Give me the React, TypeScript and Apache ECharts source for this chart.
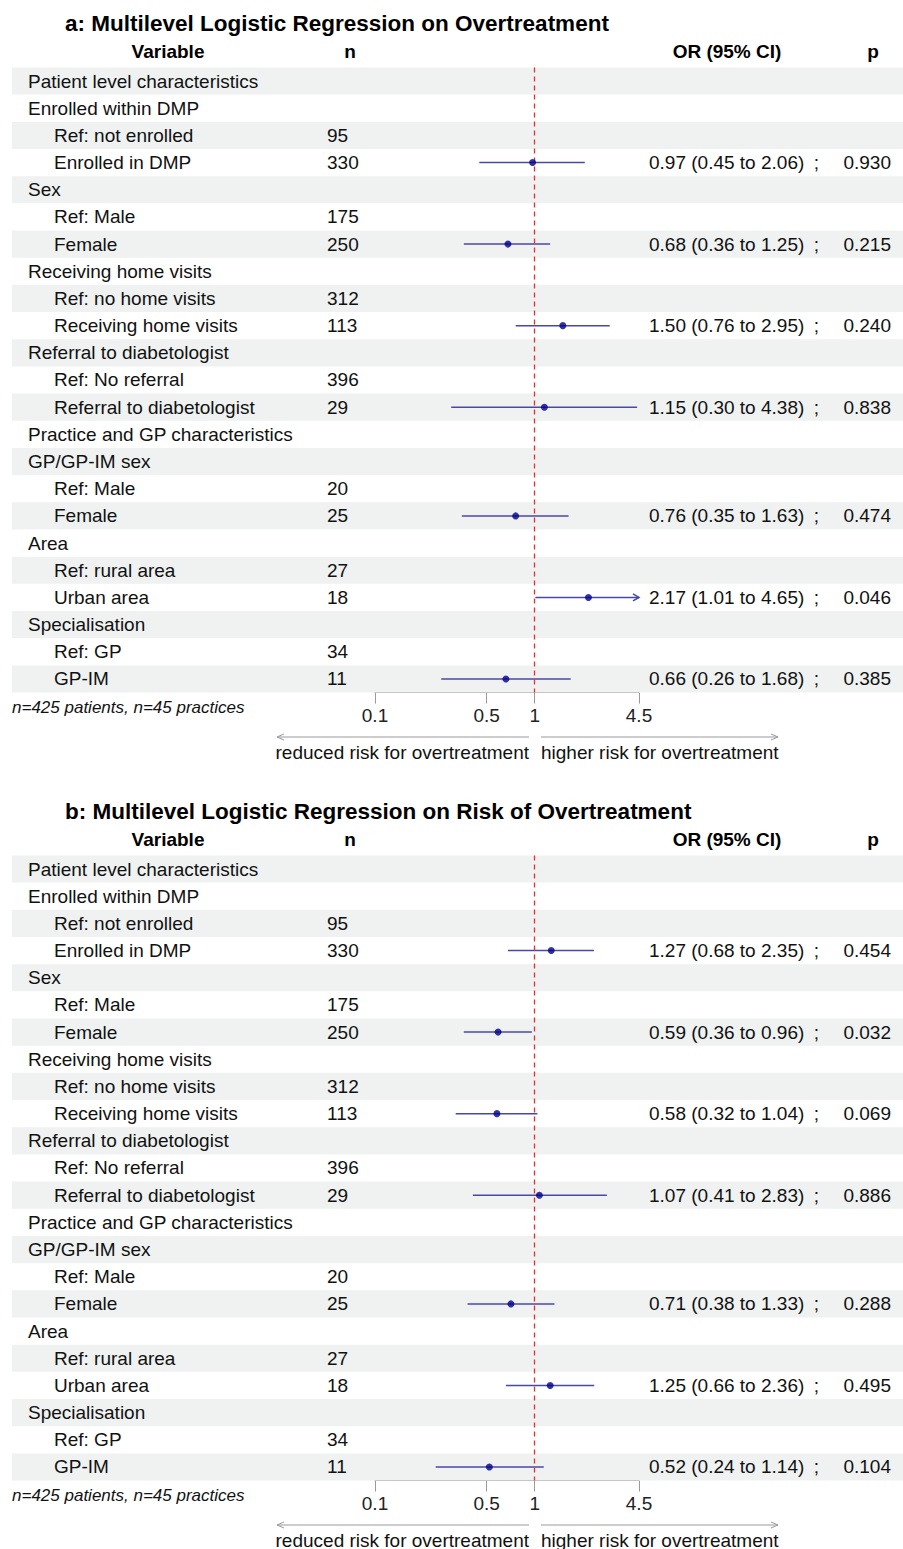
import React, { useEffect, useRef } from "react";
import * as echarts from "echarts";

// ---------- data ----------
const rowLabels = [
  "Patient level characteristics",
  "Enrolled within DMP",
  "Ref: not enrolled",
  "Enrolled in DMP",
  "Sex",
  "Ref: Male",
  "Female",
  "Receiving home visits",
  "Ref: no home visits",
  "Receiving home visits",
  "Referral to diabetologist",
  "Ref: No referral",
  "Referral to diabetologist",
  "Practice and GP characteristics",
  "GP/GP-IM sex",
  "Ref: Male",
  "Female",
  "Area",
  "Ref: rural area",
  "Urban area",
  "Specialisation",
  "Ref: GP",
  "GP-IM",
];
const rowIndent = [0, 0, 1, 1, 0, 1, 1, 0, 1, 1, 0, 1, 1, 0, 0, 1, 1, 0, 1, 1, 0, 1, 1];
const rowN = ["", "", "95", "330", "", "175", "250", "", "312", "113", "", "396", "29", "", "", "20", "25", "", "27", "18", "", "34", "11"];
const estimateRows = [3, 6, 9, 12, 16, 19, 22];

const orA = [0.97, 0.68, 1.5, 1.15, 0.76, 2.17, 0.66];
const loA = [0.45, 0.36, 0.76, 0.3, 0.35, 1.01, 0.26];
const hiA = [2.06, 1.25, 2.95, 4.38, 1.63, 4.65, 1.68];
const pA = [0.93, 0.215, 0.24, 0.838, 0.474, 0.046, 0.385];

const orB = [1.27, 0.59, 0.58, 1.07, 0.71, 1.25, 0.52];
const loB = [0.68, 0.36, 0.32, 0.41, 0.38, 0.66, 0.24];
const hiB = [2.35, 0.96, 1.04, 2.83, 1.33, 2.36, 1.14];
const pB = [0.454, 0.032, 0.069, 0.886, 0.288, 0.495, 0.104];

const titles = [
  "a: Multilevel Logistic Regression on Overtreatment",
  "b: Multilevel Logistic Regression on Risk of Overtreatment",
];
const headers = ["Variable", "n", "OR (95% CI)", "p"];
const axisTicks = [0.1, 0.5, 1, 4.5];
const xMin = 0.1;
const xMax = 4.5;
const footnote = "n=425 patients, n=45 practices";
const reducedLabel = "reduced risk for overtreatment";
const higherLabel = "higher risk for overtreatment";

// ---------- layout ----------
const FONT = '"Liberation Sans", Arial, Helvetica, sans-serif';
const PANEL_OFFSET = 788;
const ROW_H = 27.1818;
const GRID_TOP = 81 - ROW_H / 2;
const GRID_LEFT = 375;
const GRID_W = 264;
const TEXT = "#111";
const STRIPE = "#eff2f1";
const CI_COLOR = "#4848a8";
const PT_COLOR = "#00008b";
const AXIS_GRAY = "#9a9a9a";

const LMIN = Math.log10(xMin);
const LMAX = Math.log10(xMax);

function fmtOR(o: number, l: number, h: number) {
  return `${o.toFixed(2)} (${l.toFixed(2)} to ${h.toFixed(2)})`;
}

function buildPanel(p: number, or: number[], lo: number[], hi: number[], pv: number[]) {
  const stripes = rowLabels.map((_, i) => i).filter((i) => i % 2 === 0).map((i) => [LMIN, i]);
  const textData = rowLabels.map((_, i) => [LMIN, i]);
  const ciData = estimateRows.map((r, k) => [Math.log10(lo[k]), Math.log10(hi[k]), r]);
  const ptData = estimateRows.map((r, k) => [Math.log10(or[k]), r]);

  return [
    {
      type: "custom",
      xAxisIndex: p,
      yAxisIndex: p,
      silent: true,
      z: 1,
      encode: { x: 0, y: 1 },
      data: stripes,
      renderItem: (params: any, api: any) => {
        const c = api.coord([LMIN, api.value(1)]);
        const h = api.size([0, 1])[1];
        return {
          type: "rect",
          shape: { x: 12, y: c[1] - h / 2, width: 891, height: h },
          style: { fill: STRIPE },
        };
      },
    },
    {
      type: "scatter",
      xAxisIndex: p,
      yAxisIndex: p,
      silent: true,
      z: 2,
      data: [],
      markLine: {
        silent: true,
        symbol: ["none", "none"],
        label: { show: false },
        lineStyle: { color: "#e53030", width: 1.3, type: [5, 4] },
        data: [{ xAxis: 0 }],
      },
    },
    {
      type: "custom",
      xAxisIndex: p,
      yAxisIndex: p,
      silent: true,
      z: 3,
      encode: { x: 0, y: 1 },
      data: textData,
      renderItem: (params: any, api: any) => {
        const i = api.value(1);
        const y = api.coord([LMIN, i])[1];
        const children: any[] = [
          {
            type: "text",
            x: rowIndent[i] ? 54 : 28,
            y,
            style: { text: rowLabels[i], fill: TEXT, font: `19px ${FONT}`, align: "left", verticalAlign: "middle" },
          },
        ];
        if (rowN[i]) {
          children.push({
            type: "text",
            x: 327,
            y,
            style: { text: rowN[i], fill: TEXT, font: `19px ${FONT}`, align: "left", verticalAlign: "middle" },
          });
        }
        const k = estimateRows.indexOf(i);
        if (k >= 0) {
          children.push(
            {
              type: "text",
              x: 649,
              y,
              style: { text: fmtOR(or[k], lo[k], hi[k]), fill: TEXT, font: `19px ${FONT}`, align: "left", verticalAlign: "middle" },
            },
            {
              type: "text",
              x: 816.5,
              y,
              style: { text: ";", fill: TEXT, font: `19px ${FONT}`, align: "center", verticalAlign: "middle" },
            },
            {
              type: "text",
              x: 891,
              y,
              style: { text: pv[k].toFixed(3), fill: TEXT, font: `19px ${FONT}`, align: "right", verticalAlign: "middle" },
            }
          );
        }
        return { type: "group", children };
      },
    },
    {
      type: "custom",
      xAxisIndex: p,
      yAxisIndex: p,
      silent: true,
      z: 4,
      encode: { x: [0, 1], y: 2 },
      data: ciData,
      renderItem: (params: any, api: any) => {
        const l = api.value(0);
        const h = api.value(1);
        const r = api.value(2);
        const clipped = h > LMAX + 1e-9;
        const p1 = api.coord([Math.max(l, LMIN), r]);
        const p2 = api.coord([Math.min(h, LMAX), r]);
        const children: any[] = [
          {
            type: "line",
            shape: { x1: p1[0], y1: p1[1], x2: p2[0], y2: p2[1] },
            style: { stroke: CI_COLOR, lineWidth: 1.5 },
          },
        ];
        if (clipped) {
          children.push({
            type: "polyline",
            shape: {
              points: [
                [p2[0] - 6, p2[1] - 3.5],
                [p2[0], p2[1]],
                [p2[0] - 6, p2[1] + 3.5],
              ],
            },
            style: { stroke: CI_COLOR, lineWidth: 1.5, fill: "none" },
          });
        }
        return { type: "group", children };
      },
    },
    {
      type: "scatter",
      xAxisIndex: p,
      yAxisIndex: p,
      silent: true,
      z: 5,
      symbol: "circle",
      symbolSize: 7,
      itemStyle: { color: PT_COLOR },
      data: ptData,
    },
  ];
}

function panelGraphics(p: number) {
  const o = p * PANEL_OFFSET;
  const txt = (text: string, x: number, y: number, extra: any = {}) => ({
    type: "text",
    x,
    y,
    silent: true,
    style: { text, fill: TEXT, font: `19px ${FONT}`, align: "center", verticalAlign: "middle", ...extra },
  });
  const ay = 737 + o;
  return [
    txt(titles[p], 65, 23 + o, { font: `bold 22.5px ${FONT}`, align: "left", fill: "#000" }),
    txt(headers[0], 168, 51 + o, { font: `bold 19px ${FONT}`, fill: "#000" }),
    txt(headers[1], 350, 51 + o, { font: `bold 19px ${FONT}`, fill: "#000" }),
    txt(headers[2], 727, 51 + o, { font: `bold 19px ${FONT}`, fill: "#000" }),
    txt(headers[3], 873, 51 + o, { font: `bold 19px ${FONT}`, fill: "#000" }),
    txt(footnote, 12, 707 + o, { font: `italic 17px ${FONT}`, align: "left" }),
    {
      type: "line",
      silent: true,
      shape: { x1: 529, y1: ay, x2: 277, y2: ay },
      style: { stroke: AXIS_GRAY, lineWidth: 1 },
    },
    {
      type: "polyline",
      silent: true,
      shape: { points: [[284, ay - 3], [277, ay], [284, ay + 3]] },
      style: { stroke: AXIS_GRAY, lineWidth: 1, fill: "none" },
    },
    {
      type: "line",
      silent: true,
      shape: { x1: 541, y1: ay, x2: 778, y2: ay },
      style: { stroke: AXIS_GRAY, lineWidth: 1 },
    },
    {
      type: "polyline",
      silent: true,
      shape: { points: [[771, ay - 3], [778, ay], [771, ay + 3]] },
      style: { stroke: AXIS_GRAY, lineWidth: 1, fill: "none" },
    },
    txt(reducedLabel, 529, 752 + o, { align: "right" }),
    txt(higherLabel, 541, 752 + o, { align: "left" }),
  ];
}

export default function App() {
  const ref = useRef<HTMLDivElement>(null);

  useEffect(() => {
    document.body.style.margin = "0";
    if (!ref.current) return;
    const chart = echarts.init(ref.current, null, { renderer: "svg" });
    const tickLogs = axisTicks.map((t) => Math.log10(t));
    const grids = [0, 1].map((p) => ({
      left: GRID_LEFT,
      top: GRID_TOP + p * PANEL_OFFSET,
      width: GRID_W,
      height: ROW_H * rowLabels.length,
      containLabel: false,
    }));
    const xAxes = [0, 1].map((p) => ({
      type: "value",
      gridIndex: p,
      min: LMIN,
      max: LMAX,
      splitLine: { show: false },
      axisLine: { show: true, lineStyle: { color: AXIS_GRAY, width: 1 } },
      axisTick: { show: true, length: 11, customValues: tickLogs, lineStyle: { color: AXIS_GRAY, width: 1 } },
      axisLabel: {
        show: true,
        customValues: tickLogs,
        margin: 13,
        color: "#222",
        fontSize: 19,
        fontFamily: FONT,
        formatter: (v: number) => String(Math.round(Math.pow(10, v) * 10) / 10),
      },
    }));
    const yAxes = [0, 1].map((p) => ({
      type: "category",
      gridIndex: p,
      inverse: true,
      data: rowLabels.map((_, i) => String(i)),
      show: false,
    }));
    chart.setOption({
      animation: false,
      backgroundColor: "#fff",
      grid: grids,
      xAxis: xAxes,
      yAxis: yAxes,
      series: [
        ...buildPanel(0, orA, loA, hiA, pA),
        ...buildPanel(1, orB, loB, hiB, pB),
      ],
      graphic: [...panelGraphics(0), ...panelGraphics(1)],
    });
    return () => chart.dispose();
  }, []);

  return <div ref={ref} style={{ width: 903, height: 1549 }} />;
}
